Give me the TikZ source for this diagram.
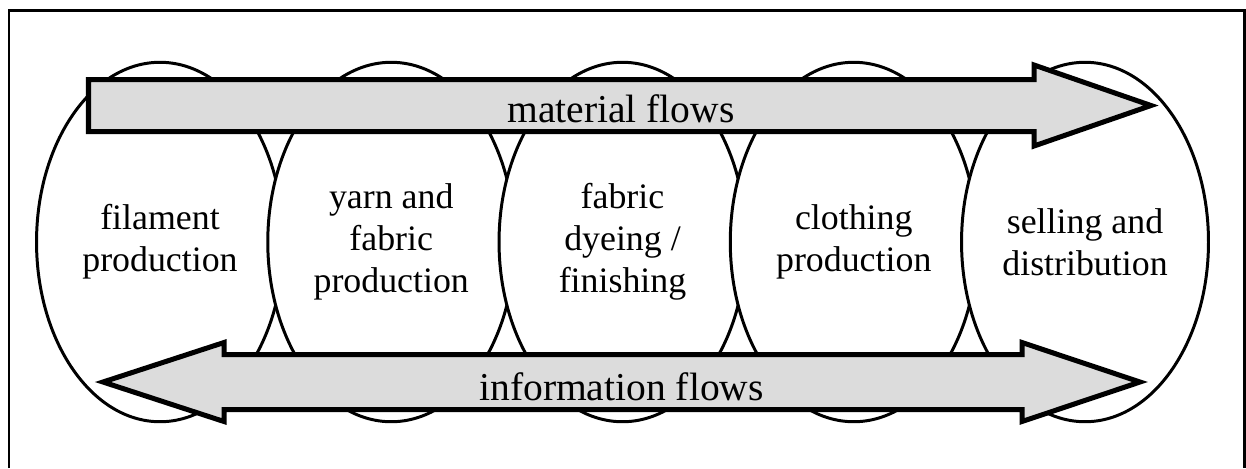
\documentclass[tikz,border=0pt]{standalone}
\usepackage{fontspec}
\setmainfont{Liberation Serif}
\usepackage{xcolor}
\usetikzlibrary{shapes.geometric}
\definecolor{flowgray}{RGB}{220,220,220}
\tikzset{
  stage/.style={ellipse,draw,fill=white,line width=1.7pt,minimum width=4.94cm,minimum height=7.19cm,inner sep=0pt,align=center,font=\fontsize{20.4}{24}\selectfont},
  flow/.style={draw,fill=flowgray,line width=2.85pt},
  flowlbl/.style={anchor=base,inner sep=0pt,font=\fontsize{22.5}{27}\selectfont},
  frame/.style={line width=1.7pt}
}

\begin{document}
\begin{tikzpicture}[x=0.02cm,y=-0.02cm]
\useasboundingbox (0,0) rectangle (1246,468);
\draw[frame] (9,468) -- (9,10.5) -- (1244,10.5) -- (1244,468);
\node[stage] (fil) at (160,242) {filament\\production};
\node[stage] (yarn) at (391.25,242) {yarn and\\fabric\\production};
\node[stage] (dye) at (622.5,242) {fabric\\dyeing /\\finishing};
\node[stage] (cloth) at (853.75,242) {clothing\\production};
\node[stage] (sell) at (1085,242) {selling and\\distribution};
\draw[flow] (88.5,79.5) -- (1034,79.5) -- (1034,65) -- (1151,105.5) -- (1034,146) -- (1034,131.5) -- (88.5,131.5) -- cycle;
\node[flowlbl] (mat) at (621,122) {material flows};
\draw[flow] (103,382) -- (224,342.5) -- (224,354.5) -- (1022,354.5) -- (1022,342.5) -- (1140,382) -- (1022,421.5) -- (1022,409.5) -- (224,409.5) -- (224,421.5) -- cycle;
\node[flowlbl] (info) at (621.5,400) {information flows};
\end{tikzpicture}
\end{document}
